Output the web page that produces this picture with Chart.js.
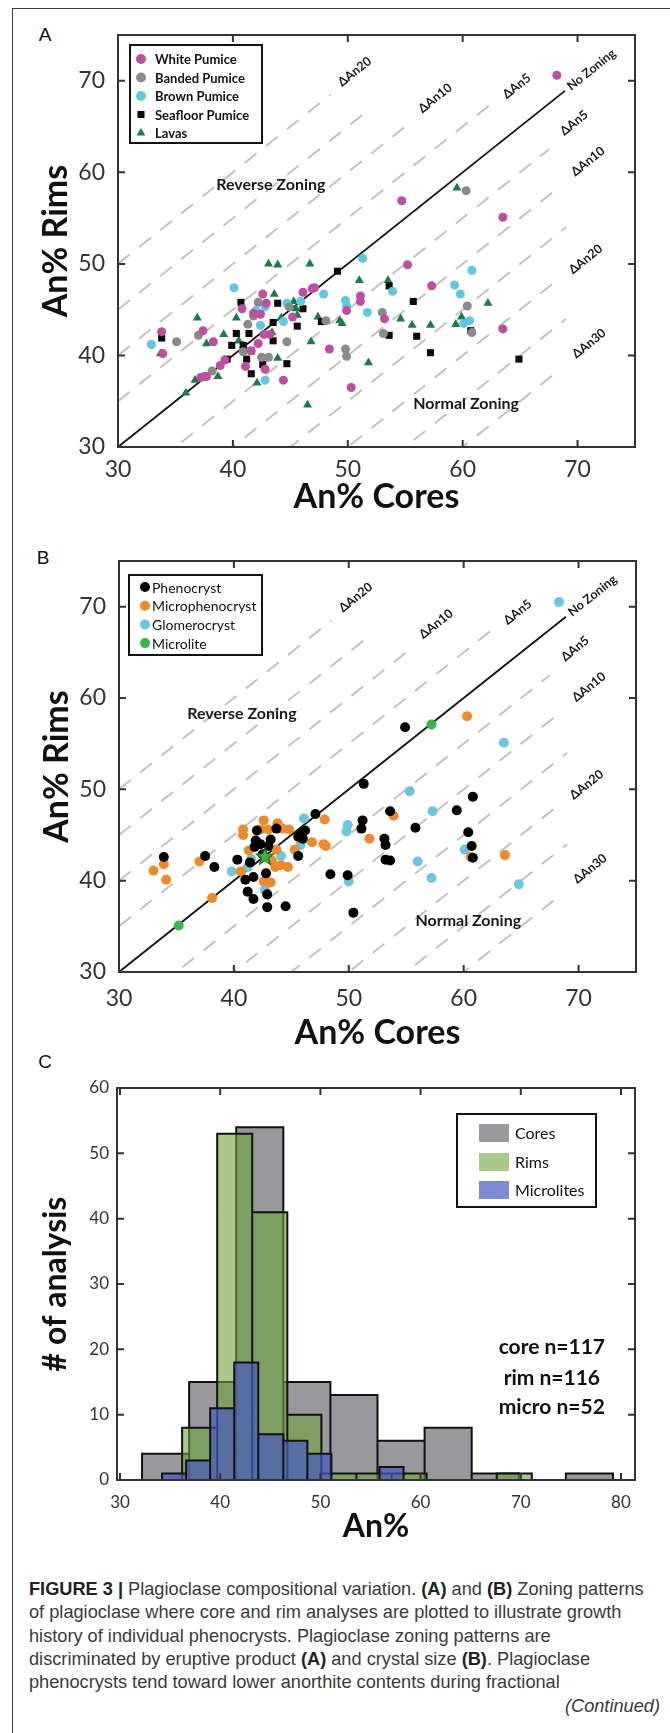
<!DOCTYPE html>
<html lang="en">
<head>
<meta charset="utf-8">
<title>Plagioclase compositional variation</title>
<script src="https://cdn.jsdelivr.net/npm/chart.js@4.4.1/dist/chart.umd.min.js"></script>
<style>
  html, body { margin: 0; padding: 0; background: #fff; }
  body { position: relative; width: 670px; height: 1733px; overflow: hidden; }
  .frame { position: absolute; left: 12px; top: 8px; width: 720px; height: 1800px;
           border: 1.5px solid #3a3a3a; box-sizing: border-box; }
  .box { position: absolute; left: 0; width: 670px; }
  .letter { position: absolute; font: 19px "Liberation Sans", Arial, sans-serif; color: #111;
            transform: translate(-50%, -50%); }
  .caption { position: absolute; left: 29px; top: 1578px; white-space: nowrap;
             font: 18.2px/23.3px "Liberation Sans", Arial, sans-serif; color: #3a3a3a; }
  .caption b { color: #222; }
  .cont { position: absolute; right: 10px; top: 1695px; white-space: nowrap;
          font: italic 18.2px/23.3px "Liberation Sans", Arial, sans-serif; color: #3a3a3a; }
</style>
</head>
<body>
<div class="frame"></div>

<div class="letter" style="left:45px;top:35px">A</div>
<div class="box" style="top:0;height:530px"><canvas id="chartA"></canvas></div>

<div class="letter" style="left:43px;top:558px">B</div>
<div class="box" style="top:530px;height:530px"><canvas id="chartB"></canvas></div>

<div class="letter" style="left:45px;top:1062px">C</div>
<div class="box" style="top:1060px;height:500px"><canvas id="chartC"></canvas></div>

<div class="caption"><b>FIGURE 3 |</b> Plagioclase compositional variation. <b>(A)</b> and <b>(B)</b> Zoning patterns<br>of plagioclase where core and rim analyses are plotted to illustrate growth<br>history of individual phenocrysts. Plagioclase zoning patterns are<br>discriminated by eruptive product <b>(A)</b> and crystal size <b>(B)</b>. Plagioclase<br>phenocrysts tend toward lower anorthite contents during fractional</div>
<div class="cont">(Continued)</div>

<script>
// ---- A: core vs rim An% by eruptive product ----
const whiteCore = [68.2, 54.7, 63.5, 55.2, 57.3, 42.6, 46.1, 46.9, 51.1, 51.1, 42.9, 40.8, 41.8, 42.4, 45.2, 49.9, 53.2, 63.5, 33.8, 33.9, 37.4, 38.3, 42.7, 42.2, 41.6, 39.3, 38.9, 37.7, 37.2, 41.1, 42.8, 44.4, 48.4, 50.3, 43.2, 47.1];
const whiteRim = [70.6, 56.9, 55.1, 49.9, 47.6, 46.7, 46.9, 47.3, 46.5, 45.9, 45.7, 45.1, 44.6, 44.5, 44.2, 44.9, 44.0, 42.9, 42.6, 40.2, 42.7, 41.5, 42.3, 41.3, 40.5, 39.5, 38.9, 37.7, 37.6, 38.8, 38.5, 37.3, 40.7, 36.5, 42.3, 47.4];
const bandedCore = [60.3, 42.2, 60.4, 48.1, 53.0, 53.1, 60.8, 35.1, 37.0, 41.3, 44.7, 40.9, 38.2, 37.5, 42.5, 43.1, 49.8, 49.9, 41.8, 44.9];
const bandedRim = [58.0, 45.8, 45.4, 43.8, 44.7, 42.4, 42.5, 41.5, 42.2, 43.4, 41.5, 40.4, 38.3, 37.7, 39.8, 39.8, 40.7, 39.9, 44.3, 45.3];
const brownCore = [51.3, 60.8, 53.9, 59.3, 59.8, 40.1, 47.9, 49.8, 49.9, 44.7, 45.9, 42.8, 51.7, 60.1, 60.6, 44.4, 42.4, 32.9, 42.8, 42.0];
const brownRim = [50.6, 49.3, 47.0, 47.7, 46.7, 47.4, 46.7, 46.0, 45.4, 45.7, 45.9, 45.3, 44.7, 43.5, 43.8, 43.7, 43.3, 41.2, 37.3, 44.9];
const seafloorCore = [49.1, 53.6, 40.7, 43.9, 55.7, 46.1, 47.7, 53.6, 56.0, 57.2, 60.7, 64.9, 33.8, 40.3, 39.9, 40.9, 41.4, 43.5, 43.5, 41.6, 39.5, 41.2, 42.6, 41.6, 44.7, 45.6];
const seafloorRim = [49.2, 47.6, 45.8, 45.7, 45.9, 45.1, 43.7, 42.2, 42.1, 40.3, 42.7, 39.6, 41.9, 42.4, 41.1, 41.1, 42.4, 43.6, 41.6, 40.5, 39.6, 39.6, 39.0, 38.0, 39.1, 43.2];
const lavaCore = [59.5, 43.1, 43.9, 46.7, 51.0, 53.5, 43.6, 62.2, 45.5, 40.3, 36.9, 44.2, 45.6, 47.4, 49.3, 49.5, 54.6, 55.6, 57.2, 59.4, 59.9, 33.7, 39.2, 37.7, 40.5, 43.4, 38.7, 43.9, 42.1, 51.8, 46.5, 36.7, 35.9, 46.8, 40.9, 45.3];
const lavaRim = [58.3, 50.0, 49.9, 50.0, 48.2, 48.2, 46.7, 45.7, 45.1, 44.1, 44.1, 44.1, 44.4, 44.2, 43.8, 43.5, 44.0, 43.3, 43.3, 43.4, 44.2, 40.2, 42.3, 41.3, 41.6, 42.5, 37.7, 39.7, 37.0, 39.2, 34.6, 37.3, 35.9, 41.5, 41.1, 45.9];

// ---- B: core vs rim An% by crystal size ----
const phenoCore = [54.9, 51.3, 60.8, 59.4, 53.6, 55.8, 60.4, 60.7, 60.8, 53.1, 53.2, 53.2, 53.6, 51.2, 51.1, 49.9, 50.4, 48.4, 47.1, 45.9, 45.6, 45.6, 43.7, 41.9, 41.8, 42.3, 40.3, 41.7, 41.0, 41.2, 41.7, 42.9, 42.9, 44.5, 42.8, 43.0, 42.0, 37.5, 38.3, 33.9, 46.0, 46.2, 45.8, 41.4, 42.5, 43.2];
const phenoRim = [56.8, 50.6, 49.2, 47.7, 47.6, 45.8, 45.3, 43.8, 42.5, 44.6, 43.9, 42.3, 42.2, 46.6, 45.7, 40.6, 36.5, 40.7, 47.3, 45.2, 44.8, 42.7, 45.7, 44.4, 43.7, 44.0, 42.3, 40.4, 40.1, 38.8, 38.0, 38.5, 37.1, 37.2, 40.8, 43.8, 45.5, 42.7, 41.5, 42.6, 44.6, 45.5, 45.0, 42.0, 42.9, 44.5];
const microphenoCore = [60.3, 53.9, 60.6, 63.6, 51.8, 47.9, 48.0, 46.8, 45.3, 44.8, 42.6, 42.3, 43.0, 40.8, 40.8, 41.3, 40.6, 42.6, 43.2, 43.3, 43.6, 44.1, 44.7, 43.7, 33.0, 33.9, 34.1, 37.0, 38.1, 44.2, 47.8, 43.8];
const microphenoRim = [58.0, 47.1, 42.6, 42.8, 44.6, 46.7, 43.8, 44.2, 43.4, 45.6, 46.6, 45.6, 45.6, 45.6, 45.0, 43.3, 41.0, 39.9, 39.8, 42.2, 41.5, 41.7, 41.5, 43.4, 41.1, 41.8, 40.1, 42.1, 38.1, 45.7, 44.0, 46.3];
const glomeroCore = [68.3, 63.5, 55.3, 57.3, 60.1, 56.0, 57.2, 64.8, 49.9, 49.8, 50.0, 46.1, 45.8, 41.5, 41.2, 39.8, 42.7, 44.1];
const glomeroRim = [70.5, 55.1, 49.8, 47.6, 43.4, 42.1, 40.3, 39.6, 46.1, 45.4, 39.9, 46.8, 43.9, 42.4, 41.5, 41.0, 39.0, 42.7];
const microliteCore = [57.2, 35.2, 42.7];
const microliteRim = [57.1, 35.1, 42.7];

// zoning guides (rim - core offsets) and where each dashed guide stops
const zoneSteps = [20, 15, 10, 5, -5, -10, -15, -20, -25, -30];
const zoneEnds = [48.5, 52, 55.5, 63, 67.5, 68.5, 69, 68.5, 69, 68.5];
const noZoningEnd = 68.9;
const zoneLabels = ['\u0394An20', '\u0394An10', '\u0394An5', 'No Zoning', '\u0394An5', '\u0394An10', '\u0394An20', '\u0394An30'];
const zoneLabelX = [50.6, 57.6, 64.7, 71.2, 69.7, 70.9, 70.7, 71.0];
const zoneLabelY = [71.0, 68.1, 69.4, 71.2, 65.4, 61.2, 50.5, 41.3];
const zoneTitles = ['Reverse Zoning', 'Normal Zoning'];
const zoneTitleXA = [43.3, 60.3], zoneTitleYA = [58.6, 34.7];
const zoneTitleXB = [40.7, 60.4], zoneTitleYB = [58.3, 35.6];

// ---- C: An% histograms (bin edges and counts) ----
const coreEdges = [32.2, 36.9, 41.6, 46.3, 51.0, 55.7, 60.4, 65.1, 69.8, 74.5, 79.2];
const coreCounts = [4, 15, 54, 15, 13, 6, 8, 1, 0, 1];
const rimEdges = [36.2, 39.7, 43.2, 46.7, 50.1, 53.6, 57.1, 60.6, 64.1, 67.6, 71.1];
const rimCounts = [8, 53, 41, 10, 1, 1, 1, 0, 0, 1];
const microEdges = [34.2, 36.6, 39.0, 41.4, 43.8, 46.3, 48.7, 51.1, 53.5, 55.9, 58.3];
const microCounts = [1, 3, 11, 18, 7, 6, 4, 0, 0, 2];
const statLines = ['core n=117', 'rim n=116', 'micro n=52'];
const statX = 73.1;
const statY = [20.3, 15.5, 11.1];

const FONT = 'Lato, "Open Sans", sans-serif';

function pairs(xs, ys) {
  return xs.map((v, i) => ({x: v, y: ys[i]}));
}

// one closed outline per bar so every bin gets its own black edge
function histOutline(edges, counts) {
  const pts = [];
  counts.forEach((c, i) => {
    pts.push({x: edges[i], y: 0}, {x: edges[i], y: c}, {x: edges[i + 1], y: c}, {x: edges[i + 1], y: 0});
  });
  return pts;
}

function guideSets() {
  const sets = zoneSteps.map((d, i) => ({
    type: 'line', guide: true, data: [{x: 30, y: 30 + d}, {x: zoneEnds[i], y: zoneEnds[i] + d}],
    borderColor: '#c2c2c2', borderWidth: 2, borderDash: [15, 12], pointRadius: 0, fill: false, order: 10
  }));
  sets.push({
    type: 'line', guide: true, data: [{x: 30, y: 30}, {x: noZoningEnd, y: noZoningEnd}],
    borderColor: '#111', borderWidth: 1.8, pointRadius: 0, fill: false, order: 9
  });
  return sets;
}

function dots(label, xs, ys, color, shape, r) {
  return {
    label: label, data: pairs(xs, ys), backgroundColor: color, borderColor: color,
    pointStyle: shape, legendShape: shape, pointRadius: r, pointHoverRadius: r, pointBorderWidth: 0
  };
}

function scatterAxes(c) {
  const tickFont = {family: FONT, size: 23};
  const titleFont = {family: FONT, size: 34, weight: 'bold'};
  return {
    x: {
      type: 'linear', min: 30, max: 75,
      grid: {display: false, drawTicks: false}, border: {display: false},
      ticks: {stepSize: 10, includeBounds: false, padding: c.xPad, color: '#333', font: tickFont},
      title: {display: true, text: 'An% Cores', color: '#111', font: titleFont, padding: {top: 0, bottom: c.xTitlePad}},
      afterFit: s => { s.height = c.xHeight; }
    },
    y: {
      type: 'linear', min: 30, max: 75,
      grid: {display: false, drawTicks: false}, border: {display: false},
      ticks: {stepSize: 10, includeBounds: false, padding: 13, color: '#333', font: tickFont},
      title: {display: true, text: 'An% Rims', color: '#111', font: titleFont, padding: {top: c.yTitlePad, bottom: 0}},
      afterFit: s => { s.width = c.yWidth; }
    }
  };
}

// box round the plot with inward ticks on all four sides
const axisBox = {
  id: 'axisBox',
  afterDatasetsDraw(chart) {
    const {ctx, chartArea: a, scales: {x, y}} = chart;
    const len = 7;
    ctx.save();
    ctx.strokeStyle = '#333';
    ctx.lineWidth = 2;
    ctx.strokeRect(a.left, a.top, a.right - a.left, a.bottom - a.top);
    ctx.beginPath();
    x.ticks.forEach(t => {
      const px = x.getPixelForValue(t.value);
      ctx.moveTo(px, a.bottom); ctx.lineTo(px, a.bottom - len);
      ctx.moveTo(px, a.top); ctx.lineTo(px, a.top + len);
    });
    y.ticks.forEach(t => {
      const py = y.getPixelForValue(t.value);
      ctx.moveTo(a.left, py); ctx.lineTo(a.left + len, py);
      ctx.moveTo(a.right, py); ctx.lineTo(a.right - len, py);
    });
    ctx.stroke();
    ctx.restore();
  }
};

// guide labels along the 1:1 slope plus the two zone titles
const zoneNotes = {
  id: 'zoneNotes',
  afterDatasetsDraw(chart, args, o) {
    const {ctx, scales: {x, y}} = chart;
    const ux = x.getPixelForValue(40) - x.getPixelForValue(30);
    const uy = y.getPixelForValue(30) - y.getPixelForValue(40);
    const ang = Math.atan2(uy, ux);
    ctx.save();
    ctx.fillStyle = '#1a1a1a';
    ctx.textAlign = 'center';
    ctx.textBaseline = 'middle';
    ctx.font = 'bold 12.5px ' + FONT;
    zoneLabels.forEach((t, i) => {
      ctx.save();
      ctx.translate(x.getPixelForValue(zoneLabelX[i]), y.getPixelForValue(zoneLabelY[i]));
      ctx.rotate(-ang);
      ctx.fillText(t, 0, 0);
      ctx.restore();
    });
    ctx.font = 'bold 16px ' + FONT;
    zoneTitles.forEach((t, i) => {
      ctx.fillText(t, x.getPixelForValue(o.xs[i]), y.getPixelForValue(o.ys[i]));
    });
    ctx.restore();
  }
};

// boxed legend with the dataset markers
const markerLegend = {
  id: 'markerLegend',
  afterDraw(chart, args, o) {
    const {ctx, chartArea: a} = chart;
    const bx = a.left + o.left, by = a.top + o.top;
    ctx.save();
    ctx.fillStyle = '#fff';
    ctx.fillRect(bx, by, o.width, o.height);
    ctx.lineWidth = 2;
    ctx.strokeStyle = '#111';
    ctx.strokeRect(bx, by, o.width, o.height);
    ctx.font = o.font;
    ctx.textAlign = 'left';
    ctx.textBaseline = 'middle';
    chart.data.datasets.filter(d => !d.guide).forEach((d, i) => {
      const cy = by + o.first + i * o.step;
      ctx.fillStyle = d.backgroundColor;
      Chart.helpers.drawPoint(ctx, {pointStyle: d.legendShape, radius: o.radius, rotation: 0, borderWidth: 0}, bx + o.markerX, cy);
      ctx.fillStyle = '#111';
      ctx.fillText(d.label, bx + o.textX, cy + 1);
    });
    ctx.restore();
  }
};

// legend with filled swatches, plus the sample counts
const swatchLegend = {
  id: 'swatchLegend',
  afterDraw(chart) {
    const {ctx, chartArea: a, scales: {x, y}} = chart;
    const bx = a.left + 340, by = a.top + 26;
    ctx.save();
    ctx.fillStyle = '#fff';
    ctx.fillRect(bx, by, 139, 93);
    ctx.lineWidth = 2;
    ctx.strokeStyle = '#111';
    ctx.strokeRect(bx, by, 139, 93);
    ctx.font = '16px ' + FONT;
    ctx.textAlign = 'left';
    ctx.textBaseline = 'middle';
    const rows = [19, 48, 76];
    chart.data.datasets.forEach((d, i) => {
      ctx.fillStyle = d.backgroundColor;
      ctx.fillRect(bx + 22, by + rows[i] - 9, 30, 18);
      ctx.fillStyle = '#111';
      ctx.fillText(d.label, bx + 58, by + rows[i] + 1);
    });
    ctx.font = 'bold 21px ' + FONT;
    ctx.textAlign = 'center';
    statLines.forEach((t, i) => ctx.fillText(t, x.getPixelForValue(statX), y.getPixelForValue(statY[i])));
    ctx.restore();
  }
};

const starMark = document.createElement('canvas');
starMark.width = 20;
starMark.height = 20;
(function () {
  const s = starMark.getContext('2d');
  s.beginPath();
  for (let i = 0; i < 10; i++) {
    const r = i % 2 ? 3.8 : 9;
    const t = -Math.PI / 2 + i * Math.PI / 5;
    s.lineTo(10 + r * Math.cos(t), 10.8 + r * Math.sin(t));
  }
  s.closePath();
  s.fillStyle = '#3cb44b';
  s.fill();
  s.strokeStyle = '#1d6a2b';
  s.lineWidth = 1.2;
  s.stroke();
})();

const common = {
  animation: false, responsive: true, maintainAspectRatio: false, events: []
};

new Chart(document.getElementById('chartA'), {
  type: 'scatter',
  data: {
    datasets: [
      dots('White Pumice', whiteCore, whiteRim, '#be4fa0', 'circle', 4.5),
      dots('Banded Pumice', bandedCore, bandedRim, '#8a8a8a', 'circle', 4.5),
      dots('Brown Pumice', brownCore, brownRim, '#5ec8e0', 'circle', 4.5),
      dots('Seafloor Pumice', seafloorCore, seafloorRim, '#0a0a0a', 'rect', 5),
      dots('Lavas', lavaCore, lavaRim, '#1b7a48', 'triangle', 5.2)
    ].concat(guideSets())
  },
  options: Object.assign({}, common, {
    layout: {padding: {top: 35, right: 35, left: 0, bottom: 0}},
    scales: scatterAxes({xPad: 9, xTitlePad: 12.6, xHeight: 83, yTitlePad: 36, yWidth: 118}),
    plugins: {
      legend: {display: false}, tooltip: {enabled: false},
      zoneNotes: {xs: zoneTitleXA, ys: zoneTitleYA},
      markerLegend: {left: 12, top: 10, width: 132, height: 98, first: 14, step: 18.5,
                     markerX: 11, textX: 25, radius: 5, font: 'bold 13px ' + FONT}
    }
  }),
  plugins: [axisBox, zoneNotes, markerLegend]
});

const microlite = dots('Microlite', microliteCore, microliteRim, '#3cb44b', 'circle', 5);
microlite.pointStyle = ['circle', 'circle', starMark];
microlite.order = -1;

new Chart(document.getElementById('chartB'), {
  type: 'scatter',
  data: {
    datasets: [
      dots('Phenocryst', phenoCore, phenoRim, '#000000', 'circle', 5),
      dots('Microphenocryst', microphenoCore, microphenoRim, '#ee8a2e', 'circle', 5),
      dots('Glomerocryst', glomeroCore, glomeroRim, '#6cc6df', 'circle', 5),
      microlite
    ].concat(guideSets())
  },
  options: Object.assign({}, common, {
    layout: {padding: {top: 31, right: 34, left: 0, bottom: 0}},
    scales: scatterAxes({xPad: 13, xTitlePad: 6.6, xHeight: 88, yTitlePad: 37, yWidth: 119}),
    plugins: {
      legend: {display: false}, tooltip: {enabled: false},
      zoneNotes: {xs: zoneTitleXB, ys: zoneTitleYB},
      markerLegend: {left: 10, top: 14, width: 133, height: 80, first: 12, step: 18.7,
                     markerX: 16, textX: 23, radius: 5, font: '14px ' + FONT}
    }
  }),
  plugins: [axisBox, zoneNotes, markerLegend]
});

function histSet(label, edges, counts, fillColor, order) {
  return {
    label: label, data: histOutline(edges, counts), fill: 'origin',
    backgroundColor: fillColor, borderColor: '#111', borderWidth: 2,
    borderJoinStyle: 'miter', pointRadius: 0, tension: 0, order: order
  };
}

new Chart(document.getElementById('chartC'), {
  type: 'line',
  data: {
    datasets: [
      histSet('Cores', coreEdges, coreCounts, 'rgba(110,108,114,0.7)', 3),
      histSet('Rims', rimEdges, rimCounts, 'rgba(110,165,60,0.6)', 2),
      histSet('Microlites', microEdges, microCounts, 'rgba(70,90,190,0.7)', 1)
    ]
  },
  options: Object.assign({}, common, {
    layout: {padding: {top: 28, right: 35, left: 0, bottom: 0}},
    scales: {
      x: {
        type: 'linear', min: 29.7, max: 81.4,
        grid: {display: false, drawTicks: false}, border: {display: false},
        ticks: {stepSize: 10, includeBounds: false, padding: 12, color: '#333', font: {family: FONT, size: 17}},
        title: {display: true, text: 'An%', color: '#111', font: {family: FONT, size: 32, weight: 'bold'}, padding: {top: 0, bottom: 14}},
        afterFit: s => { s.height = 80; }
      },
      y: {
        type: 'linear', min: 0, max: 60,
        grid: {display: false, drawTicks: false}, border: {display: false},
        ticks: {stepSize: 10, includeBounds: false, padding: 8, color: '#333', font: {family: FONT, size: 17}},
        title: {display: true, text: '# of analysis', color: '#111', font: {family: FONT, size: 32, weight: 'bold'}, padding: {top: 36, bottom: 0}},
        afterFit: s => { s.width = 117; }
      }
    },
    plugins: {legend: {display: false}, tooltip: {enabled: false}}
  }),
  plugins: [axisBox, swatchLegend]
});
</script>
</body>
</html>
